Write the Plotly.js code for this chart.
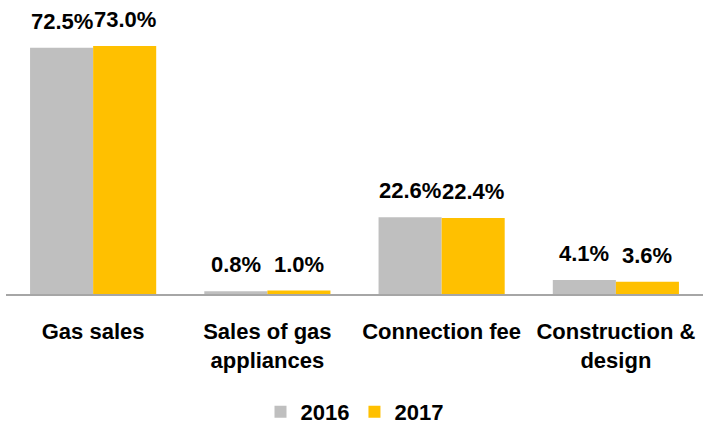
<!DOCTYPE html>
<html><head><meta charset="utf-8">
<script src="https://cdn.plot.ly/plotly-3.0.1.min.js"></script>
<style>html,body{margin:0;padding:0;background:#fff}</style>
</head><body><div id="chart" style="width:703px;height:433px"></div>
<script>
const categories = ["Gas sales", "Sales of gas<br>appliances", "Connection fee", "Construction &<br>design"];
const values2016 = [72.5, 0.8, 22.6, 4.1];
const values2017 = [73.0, 1.0, 22.4, 3.6];
const seriesNames = ["2016", "2017"];
const colors = ["#BFBFBF", "#FFC000"];

const FONT = "'Liberation Sans', Arial, sans-serif";
const BARPX = 31.5;
function trace(name, vals, color) {
  return {
    type: "bar", name: name, x: categories, y: vals,
    marker: {color: color}, hoverinfo: "none"
  };
}
const data = [trace(seriesNames[0], values2016, colors[0]), trace(seriesNames[1], values2017, colors[1])];
const annotations = [];
[values2016, values2017].forEach((vals, si) => {
  vals.forEach((v, i) => {
    annotations.push({
      x: categories[i], y: v, xref: "x", yref: "y",
      text: v.toFixed(1) + "%", showarrow: false,
      xshift: si === 0 ? -BARPX : BARPX, yanchor: "bottom", yshift: 12,
      font: {family: FONT, size: 22, color: "#000", weight: "bold"}
    });
  });
});
const layout = {
  width: 703, height: 433,
  margin: {l: 6, r: 0, t: 10, b: 138},
  paper_bgcolor: "#fff", plot_bgcolor: "#fff",
  barmode: "group", bargap: 0.276, bargroupgap: 0,
  font: {family: FONT, size: 22, color: "#000", weight: "bold"},
  xaxis: {showline: true, linecolor: "#A6A6A6", linewidth: 2, ticks: "", showgrid: false, tickangle: 0,
          tickfont: {family: FONT, size: 22, color: "#000", weight: "bold"}, ticklabelstandoff: 17},
  yaxis: {range: [0, 83.6], visible: false, showgrid: false, zeroline: false},
  annotations: annotations,
  showlegend: true,
  legend: {orientation: "h", x: 0.5, xanchor: "center", y: -0.414, yanchor: "middle",
           font: {family: FONT, size: 22, color: "#000", weight: "bold"}, itemwidth: 30}
};
Plotly.newPlot("chart", data, layout, {staticPlot: true});
</script></body></html>
